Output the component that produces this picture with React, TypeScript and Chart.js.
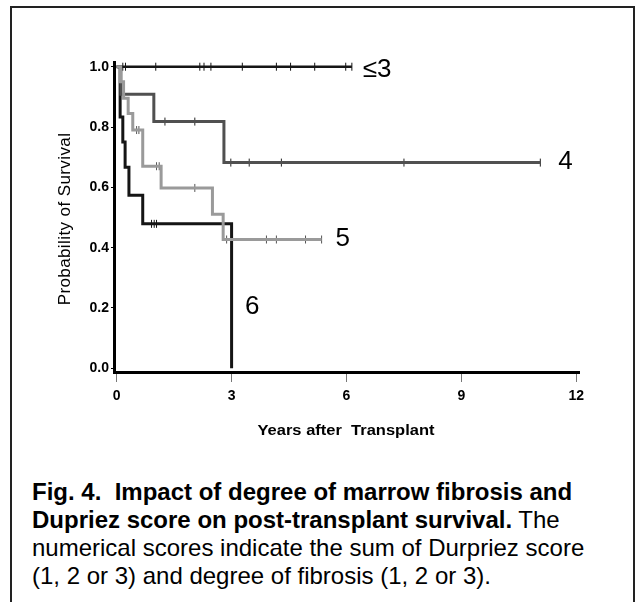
import React, { useEffect, useRef } from "react";
import { Chart, registerables } from "chart.js";

Chart.register(...registerables);

// Axis ticks
const xTickValues = [0, 3, 6, 9, 12];
const yTickValues = [0, 0.2, 0.4, 0.6, 0.8, 1.0];

// Score <=3
const g3Times = [0, 6.14];
const g3Surv = [1.0, 1.0];
const g3Censor = [0.16, 0.23, 1.02, 2.17, 2.28, 2.46, 3.28, 4.17, 4.54, 5.17, 5.98, 6.14];

// Score 4
const g4Times = [0, 0.11, 0.97, 2.8, 11.06];
const g4Surv = [1.0, 0.909, 0.818, 0.682, 0.682];
const g4Censor = [1.26, 2.04, 2.98, 3.46, 4.3, 7.5, 11.06];

// Score 5
const g5Times = [0, 0.1, 0.18, 0.3, 0.42, 0.68, 1.16, 2.5, 2.78, 5.35];
const g5Surv = [1.0, 0.95, 0.895, 0.845, 0.79, 0.67, 0.598, 0.511, 0.427, 0.427];
const g5Censor = [0.52, 0.58, 1.04, 1.11, 2.04, 2.87, 3.91, 4.17, 4.93, 5.35];

// Score 6
const g6Times = [0, 0.09, 0.16, 0.22, 0.32, 0.68, 3.0];
const g6Surv = [1.0, 0.833, 0.75, 0.667, 0.574, 0.479, 0];
const g6Censor = [0.91, 0.98, 1.04];

// Curve labels (data coordinates)
const curveLabelText = ["≤3", "4", "5", "6"];
const curveLabelX = [6.8, 11.72, 5.9, 3.54];
const curveLabelY = [0.991, 0.683, 0.428, 0.203];

const FONT = '"Liberation Sans", Arial, Helvetica, sans-serif';

function steps(times: number[], surv: number[]) {
  return times.map((t, i) => ({ x: t, y: surv[i] }));
}
function survivalAt(times: number[], surv: number[], t: number) {
  let v = surv[0];
  for (let i = 0; i < times.length; i++) if (times[i] <= t) v = surv[i];
  return v;
}
function censorPoints(times: number[], surv: number[], cens: number[]) {
  return cens.map((t) => ({ x: t, y: survivalAt(times, surv, t) }));
}

function stepDataset(times: number[], surv: number[], color: string, width: number) {
  return {
    data: steps(times, surv),
    stepped: "before" as const,
    borderColor: color,
    borderWidth: width,
    pointRadius: 0,
    fill: false,
    tension: 0,
    borderCapStyle: "butt" as const,
    borderJoinStyle: "miter" as const,
    clip: false as const,
  };
}
function censorDataset(times: number[], surv: number[], cens: number[], color: string) {
  return {
    data: censorPoints(times, surv, cens),
    showLine: false,
    pointStyle: "line" as const,
    pointRotation: 90,
    pointRadius: 4,
    pointBorderWidth: 1,
    pointBorderColor: color,
    borderColor: color,
    backgroundColor: color,
    clip: false as const,
  };
}

const labelPlugin = {
  id: "curveLabels",
  afterDatasetsDraw(chart: any) {
    const { ctx, scales } = chart;
    const x = scales.x;
    const y = scales.y;
    ctx.save();
    ctx.font = `26px ${FONT}`;
    ctx.fillStyle = "#000";
    ctx.textAlign = "center";
    ctx.textBaseline = "middle";
    curveLabelText.forEach((t, i) => {
      ctx.fillText(t, x.getPixelForValue(curveLabelX[i]), y.getPixelForValue(curveLabelY[i]));
    });
    ctx.restore();
  },
};

export default function App() {
  const canvasRef = useRef<HTMLCanvasElement | null>(null);

  useEffect(() => {
    const canvas = canvasRef.current;
    if (!canvas) return;
    const chart = new Chart(canvas, {
      type: "line",
      data: {
        datasets: [
          stepDataset(g5Times, g5Surv, "#9a9a9a", 3),
          stepDataset(g4Times, g4Surv, "#505050", 3),
          stepDataset(g6Times, g6Surv, "#151515", 3),
          stepDataset(g3Times, g3Surv, "#151515", 2.5),
          censorDataset(g5Times, g5Surv, g5Censor, "#555"),
          censorDataset(g4Times, g4Surv, g4Censor, "#222"),
          censorDataset(g6Times, g6Surv, g6Censor, "#111"),
          censorDataset(g3Times, g3Surv, g3Censor, "#111"),
        ] as any,
      },
      options: {
        responsive: false,
        animation: false,
        layout: { padding: { left: 0, top: 62, right: 56, bottom: 58 } },
        plugins: {
          legend: { display: false },
          tooltip: { enabled: false },
        },
        scales: {
          x: {
            type: "linear",
            min: -0.07,
            max: 12.07,
            afterBuildTicks: (s: any) => {
              s.ticks = xTickValues.map((v) => ({ value: v }));
            },
            afterFit: (s: any) => {
              s.height = 30;
            },
            grid: {
              display: true,
              drawOnChartArea: false,
              drawTicks: true,
              tickLength: 10,
              color: "#777",
              lineWidth: 1,
            },
            border: { display: true, color: "#000", width: 3 },
            ticks: {
              color: "#000",
              font: { family: FONT, size: 14, weight: "bold" },
              padding: 6,
              maxRotation: 0,
              autoSkip: false,
              callback: (v: any) => String(v),
            },
          },
          y: {
            type: "linear",
            min: -0.0123,
            max: 1.0156,
            afterBuildTicks: (s: any) => {
              s.ticks = yTickValues.map((v) => ({ value: v }));
            },
            afterFit: (s: any) => {
              s.width = 114;
            },
            grid: {
              display: true,
              drawOnChartArea: false,
              drawTicks: true,
              tickLength: 3,
              color: "#000",
              lineWidth: 1,
            },
            border: { display: true, color: "#000", width: 3 },
            ticks: {
              color: "#000",
              font: { family: FONT, size: 14, weight: "bold" },
              padding: 2,
              autoSkip: false,
              callback: (v: any) => Number(v).toFixed(1),
            },
          },
        },
      },
      plugins: [labelPlugin],
    });
    return () => chart.destroy();
  }, []);

  return (
    <div
      style={{
        position: "absolute",
        left: 0,
        top: 0,
        width: 635,
        height: 602,
        background: "#fff",
        overflow: "hidden",
        fontFamily: FONT,
      }}
    >
      <div
        style={{
          position: "absolute",
          left: 10,
          top: 6,
          width: 625,
          height: 620,
          border: "2px solid #222",
          borderBottom: "none",
          boxSizing: "border-box",
        }}
      />
      <canvas
        ref={canvasRef}
        width={635}
        height={460}
        style={{ position: "absolute", left: 0, top: 0, width: 635, height: 460 }}
      />
      <div
        style={{
          position: "absolute",
          left: 0,
          width: 692,
          top: 422,
          lineHeight: "16px",
          textAlign: "center",
          fontSize: 15,
          fontWeight: "bold",
          color: "#000",
          transform: "scaleX(1.1)",
          transformOrigin: "346px 8px",
          whiteSpace: "nowrap",
        }}
      >
        Years after&nbsp; Transplant
      </div>
      <div
        style={{
          position: "absolute",
          left: 65 - 150,
          top: 219 - 10,
          width: 300,
          height: 20,
          lineHeight: "20px",
          textAlign: "center",
          fontSize: 17,
          letterSpacing: "0.4px",
          color: "#000",
          transform: "rotate(-90deg)",
          transformOrigin: "150px 10px",
          whiteSpace: "nowrap",
        }}
      >
        Probability of Survival
      </div>
      <div
        style={{
          position: "absolute",
          left: 32,
          top: 478,
          fontSize: 24,
          lineHeight: "28px",
          color: "#000",
          whiteSpace: "nowrap",
        }}
      >
        <b>Fig. 4.&nbsp; Impact of degree of marrow fibrosis and</b>
        <br />
        <b>Dupriez score on post-transplant survival.</b> The
        <br />
        numerical scores indicate the sum of Durpriez score
        <br />
        (1, 2 or 3) and degree of fibrosis (1, 2 or 3).
      </div>
    </div>
  );
}
